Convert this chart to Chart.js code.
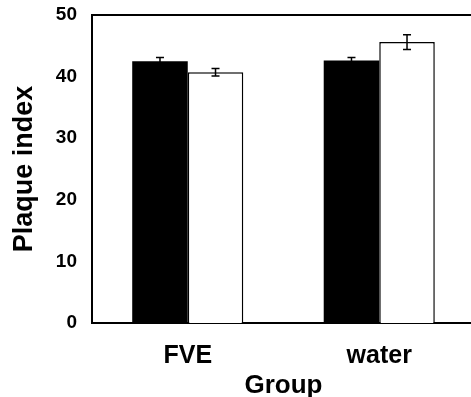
<!DOCTYPE html>
<html>
<head>
<meta charset="utf-8">
<script src="https://cdn.jsdelivr.net/npm/chart.js@4/dist/chart.umd.min.js"></script>
<style>
html,body{margin:0;padding:0;overflow:hidden;background:#fff;}
#c{display:block;}
</style>
</head>
<body>
<canvas id="c" width="475" height="397"></canvas>
<script>
const categories = ['FVE', 'water'];
const blackValues = [42.5, 42.6];
const blackErrors = [0.6, 0.5];
const whiteValues = [40.7, 45.6];
const whiteErrors = [0.6, 1.2];
const yTicks = [0, 10, 20, 30, 40, 50];

const FONT = '"Liberation Sans", Arial, sans-serif';

const errorBars = {
  id: 'errorBars',
  afterDatasetsDraw(chart) {
    const ctx = chart.ctx;
    const y = chart.scales.y;
    chart.data.datasets.forEach((ds, di) => {
      const meta = chart.getDatasetMeta(di);
      meta.data.forEach((bar, i) => {
        const v = ds.data[i], e = ds.errors[i];
        const yt = y.getPixelForValue(v + e), yb = y.getPixelForValue(v - e);
        ctx.save();
        ctx.strokeStyle = '#000';
        ctx.lineWidth = 1.5;
        ctx.beginPath();
        ctx.moveTo(bar.x, yt); ctx.lineTo(bar.x, yb);
        ctx.moveTo(bar.x - 4, yt); ctx.lineTo(bar.x + 4, yt);
        ctx.moveTo(bar.x - 4, yb); ctx.lineTo(bar.x + 4, yb);
        ctx.stroke();
        ctx.restore();
      });
    });
  }
};

const topBorder = {
  id: 'topBorder',
  afterDraw(chart) {
    const a = chart.chartArea, ctx = chart.ctx;
    ctx.save();
    ctx.strokeStyle = '#000';
    ctx.lineWidth = 2;
    ctx.beginPath();
    ctx.moveTo(a.left - 1, a.top);
    ctx.lineTo(a.right, a.top);
    ctx.stroke();
    ctx.restore();
  }
};

new Chart(document.getElementById('c'), {
  type: 'bar',
  data: {
    labels: categories,
    datasets: [
      { data: blackValues, errors: blackErrors, backgroundColor: '#000', borderColor: '#000', borderWidth: 0,
        categoryPercentage: 0.58, barPercentage: 1.0 },
      { data: whiteValues, errors: whiteErrors, backgroundColor: '#fff', borderColor: '#000', borderWidth: 1.5,
        categoryPercentage: 0.58, barPercentage: 1.0 }
    ]
  },
  options: {
    responsive: false,
    animation: false,
    layout: { padding: { top: 15, left: 0, right: 0, bottom: 0 } },
    plugins: { legend: { display: false }, tooltip: { enabled: false } },
    scales: {
      x: {
        grid: { display: false, drawTicks: false },
        border: { display: true, color: '#000', width: 2 },
        ticks: { color: '#000', font: { family: FONT, size: 25, weight: 'bold' }, padding: 18, maxRotation: 0 },
        title: { display: true, text: 'Group', color: '#000', font: { family: FONT, size: 26, weight: 'bold' }, padding: { top: 0, bottom: -4 } },
        afterFit(s) { s.height = 74; s.paddingLeft = 0; s.paddingRight = 0; }
      },
      y: {
        min: 0, max: 50,
        afterBuildTicks(s) { s.ticks = yTicks.map(v => ({ value: v })); },
        grid: { display: false, drawTicks: false },
        border: { display: true, color: '#000', width: 2 },
        ticks: { color: '#000', font: { family: FONT, size: 19, weight: 'bold' }, padding: 15 },
        title: { display: true, text: 'Plaque index', color: '#000', font: { family: FONT, size: 27, weight: 'bold' }, padding: { top: 8, bottom: 0 } },
        afterFit(s) { s.width = 92; s.paddingTop = 0; s.paddingBottom = 0; }
      }
    }
  },
  plugins: [errorBars, topBorder]
});
</script>
</body>
</html>
